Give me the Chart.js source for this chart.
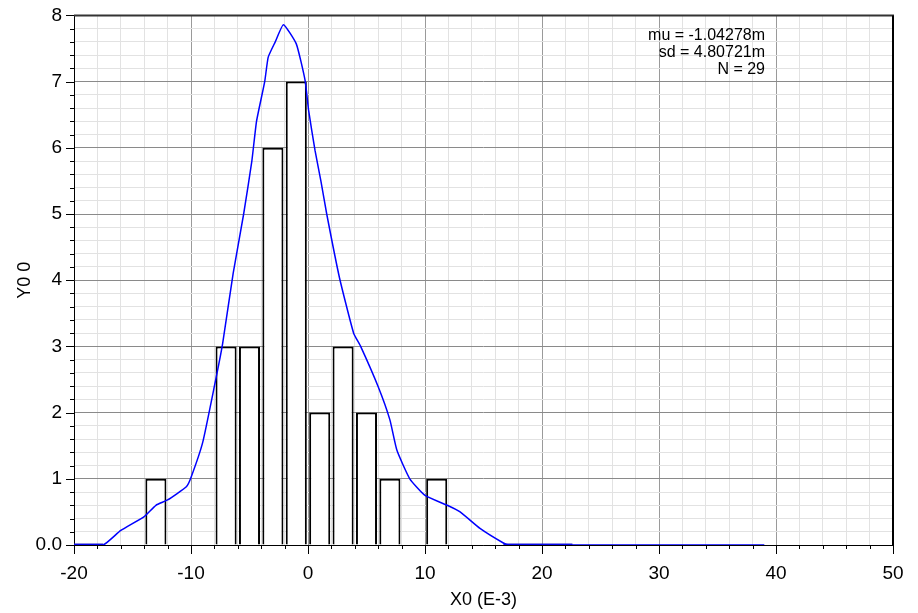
<!DOCTYPE html>
<html><head><meta charset="utf-8">
<script src="https://cdn.jsdelivr.net/npm/chart.js@4"></script>
<style>html,body{margin:0;padding:0;background:#fff;}</style>
</head><body>
<canvas id="c" width="918" height="613"></canvas>
<script>
// ---- data ----
const binCenters = [-13, -7, -5, -3, -1, 1, 3, 5, 7, 11];
const binCounts  = [1, 3, 3, 6, 7, 2, 3, 2, 1, 1];
const curveX = [-20, -17.5, -16, -14, -13, -12, -10.4, -10, -9, -8, -7.3, -6.4, -5.5, -4.8, -4.4, -3.7, -3.4, -2.8, -2.1, -1.0, -0.25, 0.05, 0.6, 1.1, 1.6, 2.7, 3.9, 4.5, 6.0, 7.0, 7.6, 8.7, 10, 11.9, 13, 14.7, 16.7, 17.2, 22.6, 39];
const curveY = [0, 0, 0.22, 0.43, 0.60, 0.68, 0.88, 1.02, 1.55, 2.4, 3.04, 4.1, 5.0, 5.8, 6.4, 7.0, 7.37, 7.6, 7.86, 7.57, 7.02, 6.57, 5.96, 5.5, 5.0, 4.03, 3.2, 3.0, 2.39, 1.89, 1.43, 1.0, 0.75, 0.60, 0.50, 0.25, 0.03, 0, 0, 0];
const baseLeftX  = [-20, -17.5];
const baseRightX = [16.7, 22.6];
const xMajorValues = [-20, -10, 0, 10, 20, 30, 40, 50];
const xTickLabels  = ['-20', '-10', '0', '10', '20', '30', '40', '50'];
const yMajorValues = [0, 1, 2, 3, 4, 5, 6, 7, 8];
const yTickLabels  = ['0.0', '1', '2', '3', '4', '5', '6', '7', '8'];
const statLines = ['mu = -1.04278m', 'sd = 4.80721m', 'N = 29'];
const xTitle = 'X0 (E-3)';
const yTitle = 'Y0 0';

const FONT = "'Liberation Sans', Arial, sans-serif";
Chart.defaults.font.family = FONT;
Chart.defaults.color = '#000';

const isMajorX = v => xMajorValues.some(m => Math.abs(m - v) < 1e-6);
const isMajorY = v => yMajorValues.some(m => Math.abs(m - v) < 1e-6);

const barData = binCenters.map((x, i) => ({x, y: binCounts[i]}));
const curveData = curveX.map((x, i) => ({x, y: curveY[i]}));
const baseData = [
  ...baseLeftX.map(x => ({x, y: 0})),
  {x: (baseLeftX[1] + baseRightX[0]) / 2, y: null},
  ...baseRightX.map(x => ({x, y: 0}))
];

const framePlugin = {
  id: 'frame',
  beforeDatasetsDraw(chart) {
    const {ctx, chartArea: a} = chart;
    ctx.save();
    ctx.strokeStyle = '#000';
    ctx.lineWidth = 1;
    ctx.beginPath();
    ctx.moveTo(a.left + 0.5, a.top); ctx.lineTo(a.left + 0.5, a.bottom + 0.5);
    ctx.lineTo(a.right, a.bottom + 0.5);
    ctx.stroke();
    ctx.lineWidth = 2;
    ctx.strokeStyle = '#333';
    ctx.beginPath(); ctx.moveTo(a.left, a.top); ctx.lineTo(a.right + 1, a.top); ctx.stroke();
    ctx.strokeStyle = '#000';
    ctx.beginPath(); ctx.moveTo(a.right, a.top); ctx.lineTo(a.right, a.bottom + 1); ctx.stroke();
    // tick marks
    ctx.lineWidth = 1;
    const xs = chart.scales.x, ys = chart.scales.y;
    ctx.beginPath();
    xs.ticks.forEach((t, i) => {
      const px = Math.round(xs.getPixelForTick(i)) + 0.5;
      const len = isMajorX(t.value) ? 9 : 4;
      ctx.moveTo(px, a.bottom); ctx.lineTo(px, a.bottom + len);
    });
    ys.ticks.forEach((t, i) => {
      const py = Math.round(ys.getPixelForTick(i)) + 0.5;
      const len = isMajorY(t.value) ? 8 : 4;
      ctx.moveTo(a.left, py); ctx.lineTo(a.left - len, py);
    });
    ctx.stroke();
    ctx.restore();
  },
  afterDraw(chart) {
    const {ctx, chartArea: a} = chart;
    ctx.save();
    ctx.font = '16px ' + FONT;
    ctx.fillStyle = '#000';
    ctx.textAlign = 'right';
    ctx.textBaseline = 'middle';
    statLines.forEach((s, i) => ctx.fillText(s, a.right - 128, a.top + 20 + i * 17));
    ctx.restore();
  }
};

new Chart(document.getElementById('c'), {
  type: 'bar',
  data: {
    datasets: [
      {
        type: 'line', data: curveData, borderColor: '#0000ff', borderWidth: 1.5,
        pointRadius: 0, tension: 0.15, fill: false, order: 0
      },
      {
        type: 'line', data: baseData, borderColor: '#1a1acc', borderWidth: 3,
        pointRadius: 0, tension: 0, fill: false, spanGaps: false, order: 1
      },
      {
        type: 'bar', data: barData, backgroundColor: '#fff', borderColor: '#000',
        borderWidth: 2, barPercentage: 0.9, categoryPercentage: 1.0, order: 2
      }
    ]
  },
  options: {
    responsive: false,
    devicePixelRatio: 1,
    animation: false,
    layout: {padding: {left: 0, right: 25, top: 15, bottom: 0}},
    plugins: {legend: {display: false}, tooltip: {enabled: false}},
    scales: {
      x: {
        type: 'linear', min: -20, max: 50, offset: false,
        grid: {
          offset: false, drawTicks: true, tickLength: 9, tickColor: 'transparent',
          color: c => isMajorX(c.tick.value) ? '#9a9a9a' : '#e2e2e2'
        },
        border: {display: false},
        ticks: {
          stepSize: 2, autoSkip: false, maxRotation: 0, padding: 8,
          font: {size: 19},
          callback: v => { const k = xMajorValues.findIndex(m => Math.abs(m - v) < 1e-6); return k >= 0 ? xTickLabels[k] : ''; }
        },
        title: {display: true, text: xTitle, font: {size: 18}, padding: {top: 0, bottom: 2}},
        afterFit: s => { s.height = 68; }
      },
      y: {
        type: 'linear', min: 0, max: 8,
        grid: {
          drawTicks: true, tickLength: 8, tickColor: 'transparent',
          color: c => isMajorY(c.tick.value) ? '#8a8a8a' : '#e2e2e2'
        },
        border: {display: false},
        ticks: {
          stepSize: 0.2, autoSkip: false, padding: 4,
          font: {size: 19},
          callback: v => { const k = yMajorValues.findIndex(m => Math.abs(m - v) < 1e-6); return k >= 0 ? yTickLabels[k] : ''; }
        },
        title: {display: true, text: yTitle, font: {size: 18}, padding: {top: 14, bottom: 0}},
        afterFit: s => { s.width = 74; }
      }
    }
  },
  plugins: [framePlugin]
});
</script>
</body></html>
